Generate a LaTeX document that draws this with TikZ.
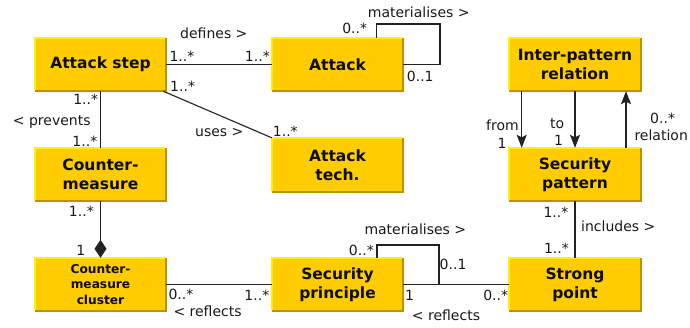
\documentclass[tikz,border=0pt]{standalone}
\usepackage{fontspec}
\setmainfont{DejaVu Sans}
\usetikzlibrary{arrows.meta}
\definecolor{boxfill}{HTML}{FFCC00}
\definecolor{boxlight}{HTML}{FFF200}
\definecolor{boxdark}{HTML}{B8920A}
\definecolor{linec}{HTML}{222222}
\begin{document}
\begin{tikzpicture}[x=1pt,y=-1pt,
  umlbox/.style={fill=boxfill, minimum width=131pt, minimum height=53pt, inner sep=0pt, align=center,
    font=\fontsize{15.5}{19}\selectfont\bfseries, text=black!95},
  smallbox/.style={umlbox, font=\fontsize{12.2}{15.3}\selectfont\bfseries},
  lab/.style={font=\fontsize{14}{16}\selectfont, inner sep=0pt, text=black!90},
  conn/.style={line width=1.1pt, draw=linec},
  edgelight/.style={line width=1.6pt, draw=boxlight},
  edgedark/.style={line width=1.8pt, draw=boxdark},
  tip/.style={-{Stealth[length=13pt,width=10pt,inset=2.5pt]}},
  comp/.style={-{Diamond[length=18pt,width=12pt]}}]
\useasboundingbox (0,0) rectangle (690,327);

% boxes
\node[umlbox] (as) at (100.5,64.5) {Attack step};
\node[umlbox] (a) at (337.5,64.5) {Attack};
\node[umlbox, minimum width=132pt] (ipr) at (575,64.5) {Inter-pattern\\relation};
\node[umlbox] (cm) at (100.5,174.5) {Counter-\\measure};
\node[umlbox, minimum height=54pt] (at) at (337.5,165) {Attack\\tech.};
\node[umlbox, minimum width=132pt] (spat) at (575,174.5) {Security\\pattern};
\node[smallbox] (cmc) at (100.5,284.5) {Counter-\\measure\\cluster};
\node[umlbox] (spr) at (337.5,284.5) {Security\\principle};
\node[umlbox, minimum width=132pt] (stp) at (575,284.5) {Strong\\point};

\foreach \n in {as,a,ipr,cm,at,spat,cmc,spr,stp}{
  \draw[edgelight] ([yshift=0.8pt]\n.south west) -- (\n.north west) -- ([xshift=-0.8pt]\n.north east);
  \draw[edgedark] (\n.north east) -- (\n.south east) -- (\n.south west);
}

% connectors
\draw[conn] (as.east) -- (a.west);
\coordinate (aloop) at (440,24);
\draw[conn] ([xshift=39.2pt]a.north) |- (aloop) |- (a.east);
\draw[conn] ([xshift=-3pt]as.south east) -- (at.north west);
\draw[conn] (as.south) -- (cm.north);
\draw[conn, comp] (cm.south) -- (cmc.north);
\draw[conn] (cmc.east) -- (spr.west);
\coordinate (sloop) at (439,245);
\draw[conn] ([xshift=39.5pt]spr.north) |- (sloop) |- (spr.east);
\draw[conn] (spr.east) -- (stp.west);
\draw[conn] (spat.south) -- (stp.north);
\draw[conn, tip] ([xshift=-53.3pt]ipr.south) -- ([xshift=-53.3pt]spat.north);
\draw[conn, tip] (ipr.south) -- (spat.north);
\draw[conn, tip] ([xshift=51pt]spat.north) -- ([xshift=51pt]ipr.south);

% labels
\node[lab, anchor=base west] (l1) at (180,38) {defines >};
\node[lab, anchor=base west] (l2) at (169.3,61.7) {1..*};
\node[lab, anchor=base east] (l3) at (270,61.7) {1..*};
\node[lab, anchor=base east] (l4) at (367.3,33.3) {0..*};
\node[lab, anchor=base west] (l5) at (367.7,17.3) {materialises >};
\node[lab, anchor=base west] (l6) at (406.7,81.7) {0..1};
\node[lab, anchor=base west] (l7) at (170,91) {1..*};
\node[lab, anchor=base west] (l8) at (195,136.7) {uses >};
\node[lab, anchor=base west] (l9) at (272.7,136) {1..*};
\node[lab, anchor=base east] (l10) at (98.3,104) {1..*};
\node[lab, anchor=base west] (l11) at (12.7,125) {< prevents};
\node[lab, anchor=base east] (l12) at (97.5,146) {1..*};
\node[lab, anchor=base east] (l13) at (94,216.3) {1..*};
\node[lab, anchor=base east] (l14) at (85.5,255.7) {1};
\node[lab, anchor=base west] (l15) at (168.3,299.3) {0..*};
\node[lab, anchor=base west] (l16) at (173.3,316) {< reflects};
\node[lab, anchor=base east] (l17) at (269.5,300.5) {1..*};
\node[lab, anchor=base east] (l18) at (374,255) {0..*};
\node[lab, anchor=base west] (l19) at (364.3,234) {materialises >};
\node[lab, anchor=base west] (l20) at (439.5,269.3) {0..1};
\node[lab, anchor=base west] (l21) at (405,300.7) {1};
\node[lab, anchor=base west] (l22) at (411.7,320) {< reflects};
\node[lab, anchor=base east] (l23) at (508.3,300.7) {0..*};
\node[lab, anchor=base east] (l24) at (568.5,217.3) {1..*};
\node[lab, anchor=base west] (l25) at (581,231.7) {includes >};
\node[lab, anchor=base east] (l26) at (569,253.3) {1..*};
\node[lab, anchor=base west] (l27) at (486,130) {from};
\node[lab, anchor=base east] (l28) at (506.7,148.3) {1};
\node[lab, anchor=base west] (l29) at (550,128.3) {to};
\node[lab, anchor=base west] (l30) at (554,145) {1};
\node[lab, anchor=base west] (l31) at (650,123.3) {0..*};
\node[lab, anchor=base west] (l32) at (634.3,140) {relation};
\end{tikzpicture}
\end{document}
